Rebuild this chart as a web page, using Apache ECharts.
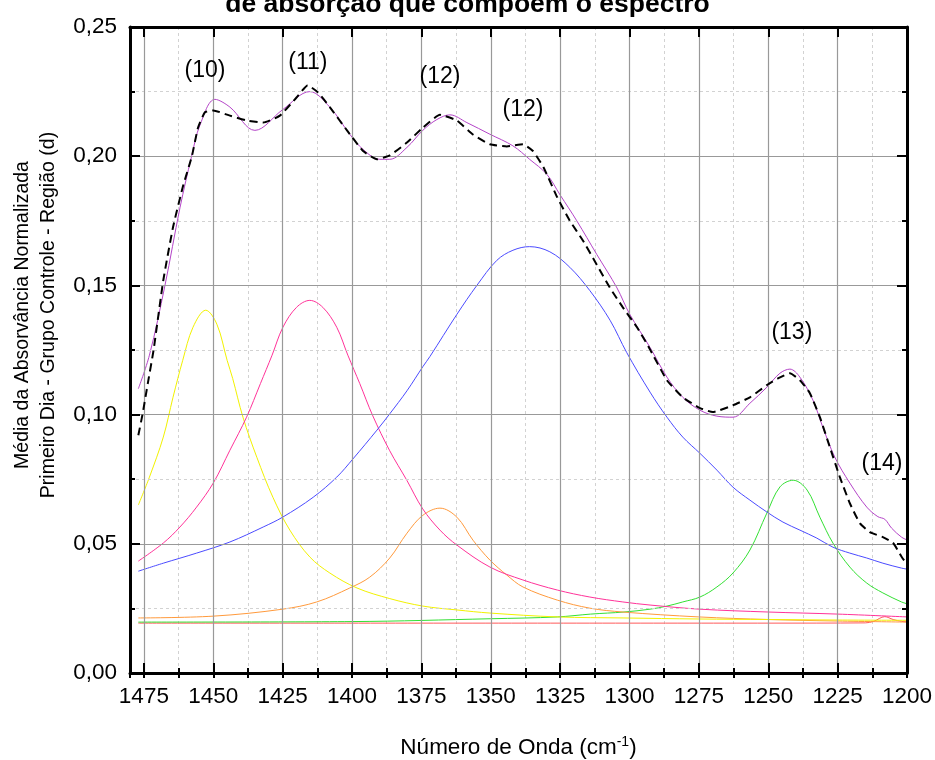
<!DOCTYPE html>
<html>
<head>
    <meta charset="utf-8">
    <title>Bandas de absorção</title>
    <script type="text/javascript" src="https://cdn.jsdelivr.net/npm/echarts@6/dist/echarts.min.js"></script>
</head>
<body style="margin:0;">
    <div id="main" style="width:935px;height:760px;"></div>

    <script type="text/javascript">
        // espectro medido (tracejado)
        var measX = [1477, 1475.5, 1473.6, 1471.5, 1468, 1464.5, 1461, 1457.7, 1455.5, 1453, 1450, 1444, 1437.9, 1432, 1426, 1420, 1416, 1412.3, 1408, 1401.8, 1396, 1391, 1386.4, 1380.2, 1374.5, 1368.3, 1362.2, 1356.4, 1350.3, 1344.2, 1338.4, 1334.8, 1331, 1326, 1321.5, 1316.8, 1311.8, 1307, 1302.4, 1297.3, 1293, 1286.5, 1280.8, 1274.6, 1270, 1262.7, 1256.6, 1250.5, 1246.5, 1242.2, 1238.6, 1235, 1231.4, 1227.8, 1224.2, 1220.6, 1217, 1213.4, 1208.7, 1205, 1201.9, 1200];
        var measY = [0.092, 0.100, 0.112, 0.125, 0.152, 0.1725, 0.188, 0.200, 0.211, 0.217, 0.2177, 0.2157, 0.2138, 0.213, 0.2157, 0.2227, 0.2274, 0.2247, 0.219, 0.210, 0.202, 0.1988, 0.2003, 0.2053, 0.211, 0.216, 0.2138, 0.2084, 0.2046, 0.2038, 0.2046, 0.202, 0.1957, 0.184, 0.175, 0.1674, 0.158, 0.149, 0.1415, 0.1338, 0.126, 0.1133, 0.1067, 0.1025, 0.101, 0.1036, 0.1067, 0.1114, 0.114, 0.116, 0.1133, 0.1083, 0.099, 0.0874, 0.0758, 0.0657, 0.058, 0.0545, 0.0526, 0.0503, 0.0449, 0.042];

        // soma do ajuste (roxo)
        var fitX = [1477, 1473, 1467.4, 1462, 1457.8, 1454.8, 1449.4, 1444, 1435, 1425, 1415.2, 1408, 1400.8, 1396, 1390, 1386.4, 1380.2, 1374.5, 1369.4, 1364.7, 1358.6, 1350.3, 1342, 1336, 1329.8, 1325, 1319, 1311.8, 1304.5, 1300, 1292.6, 1286.5, 1280.8, 1274.6, 1268.5, 1262.7, 1256.6, 1250.5, 1245.8, 1242.2, 1238.6, 1233.9, 1230.3, 1226, 1220.6, 1214.5, 1210.5, 1208, 1205.5, 1202, 1200];
        var fitY = [0.110, 0.123, 0.150, 0.180, 0.200, 0.212, 0.222, 0.219, 0.210, 0.218, 0.225, 0.219, 0.2085, 0.2026, 0.1988, 0.1988, 0.2034, 0.210, 0.2142, 0.216, 0.213, 0.2085, 0.204, 0.1988, 0.193, 0.185, 0.175, 0.162, 0.149, 0.139, 0.126, 0.1145, 0.1067, 0.1017, 0.0994, 0.099, 0.1044, 0.1106, 0.116, 0.1176, 0.1145, 0.1056, 0.095, 0.0835, 0.0735, 0.0642, 0.0605, 0.0595, 0.056, 0.0526, 0.0515];

        // bandas (10) ... (14)
        var yellowX = [1477, 1473, 1468, 1464.5, 1461, 1457.3, 1452.7, 1448.7, 1445, 1443, 1439.3, 1434.3, 1428.5, 1422.4, 1415.2, 1408, 1398.2, 1386.4, 1374.5, 1362.2, 1350.3, 1326, 1302, 1275, 1250, 1225, 1200];
        var yellowY = [0.065, 0.0758, 0.0913, 0.1067, 0.121, 0.1338, 0.1404, 0.135, 0.121, 0.114, 0.099, 0.0835, 0.068, 0.0553, 0.0449, 0.0387, 0.0329, 0.0288, 0.0259, 0.0244, 0.0232, 0.0217, 0.0213, 0.0209, 0.0207, 0.0205, 0.0204];

        var pinkX = [1477, 1468, 1462, 1456, 1450, 1444, 1438, 1433, 1428.8, 1424.9, 1420, 1415.2, 1410.5, 1405.5, 1401.5, 1397.2, 1392.5, 1386.4, 1380.2, 1374.5, 1368.3, 1362.2, 1350.3, 1338.4, 1326, 1314.3, 1302.4, 1292.6, 1274.6, 1250, 1225, 1200];
        var pinkY = [0.0433, 0.0503, 0.0565, 0.0642, 0.0735, 0.0862, 0.099, 0.112, 0.123, 0.1338, 0.1415, 0.1442, 0.1415, 0.1338, 0.123, 0.112, 0.0995, 0.086, 0.0745, 0.0635, 0.0553, 0.0495, 0.041, 0.036, 0.0321, 0.0294, 0.0275, 0.0263, 0.0247, 0.0236, 0.0228, 0.0217];

        var orangeX = [1477, 1450, 1425, 1412.7, 1400.8, 1393.6, 1386.4, 1380.2, 1374.5, 1368.3, 1362.2, 1356.4, 1350.3, 1344.2, 1338.4, 1326, 1314.3, 1302.4, 1275, 1250, 1225, 1200];
        var orangeY = [0.0213, 0.022, 0.0247, 0.0275, 0.0329, 0.0371, 0.0445, 0.0541, 0.061, 0.0638, 0.0603, 0.0514, 0.0437, 0.0379, 0.0333, 0.0282, 0.0251, 0.0236, 0.0217, 0.0207, 0.0201, 0.0197];

        var blueX = [1477, 1468, 1456, 1444, 1432, 1425, 1414, 1405.5, 1399.7, 1391, 1386.4, 1380.2, 1374.5, 1371.9, 1362.2, 1355, 1347.8, 1342, 1336, 1328.7, 1321.5, 1314.3, 1307, 1301, 1292.6, 1286.5, 1280.8, 1274.6, 1268.5, 1262.7, 1256.6, 1250.5, 1244.7, 1238.6, 1232.5, 1226.7, 1220.6, 1214.5, 1208.7, 1202, 1200];
        var blueY = [0.0394, 0.0425, 0.0464, 0.0507, 0.0565, 0.0603, 0.068, 0.0758, 0.0828, 0.094, 0.1003, 0.1092, 0.1185, 0.1225, 0.1388, 0.150, 0.1597, 0.1636, 0.165, 0.163, 0.157, 0.148, 0.1365, 0.124, 0.1087, 0.099, 0.0913, 0.085, 0.0785, 0.0719, 0.0669, 0.0623, 0.0584, 0.0553, 0.0522, 0.0487, 0.0464, 0.0445, 0.0425, 0.0406, 0.0402];

        var greenX = [1477, 1400, 1350, 1326, 1314, 1302, 1292.6, 1286.5, 1280.8, 1274.6, 1268.5, 1262.7, 1256.6, 1250.5, 1245.8, 1241, 1236, 1231.4, 1226.7, 1220.6, 1214.5, 1208.7, 1202, 1200];
        var greenY = [0.0197, 0.0199, 0.0210, 0.0217, 0.0228, 0.0236, 0.0247, 0.0259, 0.0275, 0.0294, 0.0333, 0.0387, 0.0476, 0.0619, 0.072, 0.0746, 0.0708, 0.0603, 0.0503, 0.041, 0.0348, 0.031, 0.0275, 0.0268];

        var redX = [1477, 1250, 1215, 1212, 1208, 1205, 1202, 1200];
        var redY = [0.0193, 0.0193, 0.0194, 0.0200, 0.0218, 0.0207, 0.0200, 0.0198];

        // rótulos das bandas
        var bandLabels = ['(10)', '(11)', '(12)', '(12)', '(13)', '(14)'];
        var bandLabelX = [1453, 1415.9, 1368.3, 1338.4, 1241.5, 1209];
        var bandLabelY = [0.2332, 0.2363, 0.2309, 0.2181, 0.1319, 0.0812];

        var xTicks = { min: 1200, max: 1480, major: 25, minor: 12.5 };
        var yTicks = { min: 0, max: 0.25, major: 0.05 };

        function pairs(xs, ys) {
            return xs.map(function (x, i) { return [x, ys[i]]; });
        }

        var fontFamily = 'Liberation Sans, Arial, sans-serif';

        function thinLine(name, xs, ys, color) {
            return {
                name: name,
                type: 'line',
                data: pairs(xs, ys),
                smooth: 0.35,
                showSymbol: false,
                silent: true,
                lineStyle: { color: color, width: 1 },
                z: 2
            };
        }

        var myChart = echarts.init(document.getElementById('main'));

        var majorX = {
            type: 'value', inverse: true,
            min: xTicks.min, max: xTicks.max, interval: xTicks.major,
            axisLine: { show: true, onZero: false, lineStyle: { color: '#000', width: 3 } },
            axisTick: { show: true, inside: true, length: 10, lineStyle: { color: '#000', width: 2 } },
            z: 3
        };
        var minorX = {
            type: 'value', inverse: true,
            min: xTicks.min, max: xTicks.max, interval: xTicks.minor,
            axisLine: { show: false },
            axisLabel: { show: false },
            axisTick: { show: true, inside: true, length: 5, lineStyle: { color: '#000', width: 2 } },
            z: 1
        };

        var option = {
            animation: false,
            backgroundColor: '#fff',
            title: {
                text: 'de absorção que compõem o espectro',
                left: 'center',
                top: -14,
                textStyle: { fontFamily: fontFamily, fontSize: 26.5, fontWeight: 'bold', color: '#000' }
            },
            grid: { left: 130, right: 28, top: 27, bottom: 87, outerBoundsMode: 'none' },
            xAxis: [
                Object.assign({}, majorX, {
                    position: 'bottom',
                    axisLabel: {
                        fontFamily: fontFamily, fontSize: 22.5, color: '#000', margin: 12,
                        formatter: function (v) { return v % 25 === 0 ? String(v) : ''; }
                    },
                    splitLine: { show: true, lineStyle: { color: '#999', width: 1.2 } },
                    name: 'Número de Onda (cm{sup|-1})',
                    nameLocation: 'middle',
                    nameGap: 62,
                    nameTextStyle: {
                        fontFamily: fontFamily, fontSize: 22.5, color: '#000',
                        rich: { sup: { fontFamily: fontFamily, fontSize: 14, color: '#000', verticalAlign: 'top', padding: [0, 0, 12, 0] } }
                    }
                }),
                Object.assign({}, majorX, {
                    position: 'top',
                    axisLabel: { show: false },
                    splitLine: { show: false }
                }),
                Object.assign({}, minorX, {
                    position: 'bottom',
                    splitLine: { show: true, lineStyle: { color: '#d2d2d2', width: 1, type: [3, 3] } }
                }),
                Object.assign({}, minorX, {
                    position: 'top',
                    splitLine: { show: false }
                })
            ],
            yAxis: [
                {
                    type: 'value', position: 'left',
                    min: yTicks.min, max: yTicks.max, interval: yTicks.major,
                    axisLine: { show: true, onZero: false, lineStyle: { color: '#000', width: 3 } },
                    axisTick: { show: true, inside: true, length: 10, lineStyle: { color: '#000', width: 2 } },
                    minorTick: { show: true, splitNumber: 2, length: 5, lineStyle: { color: '#000', width: 2 } },
                    axisLabel: {
                        fontFamily: fontFamily, fontSize: 22.5, color: '#000', margin: 13,
                        formatter: function (v) { return v.toFixed(2).replace('.', ','); }
                    },
                    splitLine: { show: true, lineStyle: { color: '#999', width: 1.2 } },
                    minorSplitLine: { show: true, lineStyle: { color: '#d2d2d2', width: 1, type: [3, 3] } },
                    name: 'Média da Absorvância Normalizada\nPrimeiro Dia - Grupo Controle - Região (d)',
                    nameLocation: 'middle',
                    nameRotate: 90,
                    nameGap: 68,
                    nameTextStyle: { fontFamily: fontFamily, fontSize: 19.5, color: '#000', lineHeight: 26, padding: [0, 0, 0, 70] },
                    z: 3
                },
                {
                    type: 'value', position: 'right',
                    min: yTicks.min, max: yTicks.max, interval: yTicks.major,
                    axisLine: { show: true, onZero: false, lineStyle: { color: '#000', width: 3 } },
                    axisTick: { show: true, inside: true, length: 10, lineStyle: { color: '#000', width: 2 } },
                    minorTick: { show: true, splitNumber: 2, length: 5, lineStyle: { color: '#000', width: 2 } },
                    axisLabel: { show: false },
                    splitLine: { show: false },
                    z: 3
                }
            ],
            series: [
                thinLine('Linha de base', redX, redY, '#ff5a5a'),
                thinLine('Banda 14', greenX, greenY, '#33e033'),
                thinLine('Banda 12b', orangeX, orangeY, '#ff9a3c'),
                thinLine('Banda 10', yellowX, yellowY, '#f2f200'),
                thinLine('Banda 11', pinkX, pinkY, '#ff3399'),
                thinLine('Banda 12', blueX, blueY, '#4b4bff'),
                thinLine('Ajuste', fitX, fitY, '#b444c8'),
                {
                    name: 'Espectro',
                    type: 'line',
                    data: pairs(measX, measY),
                    smooth: 0.15,
                    showSymbol: false,
                    silent: true,
                    lineStyle: { color: '#000', width: 2, type: [8, 5] },
                    z: 4
                },
                {
                    name: 'Rótulos',
                    type: 'scatter',
                    symbol: 'circle',
                    symbolSize: 2,
                    itemStyle: { color: 'rgba(0,0,0,0)', opacity: 1 },
                    silent: true,
                    data: bandLabels.map(function (t, i) {
                        return { name: t, value: [bandLabelX[i], bandLabelY[i]] };
                    }),
                    label: {
                        show: true,
                        position: 'inside',
                        formatter: '{b}',
                        fontFamily: fontFamily,
                        fontSize: 23,
                        color: '#000',
                        opacity: 1,
                        textBorderWidth: 0,
                        textBorderColor: 'transparent'
                    },
                    labelLayout: { hideOverlap: false },
                    z: 5
                }
            ]
        };

        myChart.setOption(option);
    </script>
</body>
</html>
